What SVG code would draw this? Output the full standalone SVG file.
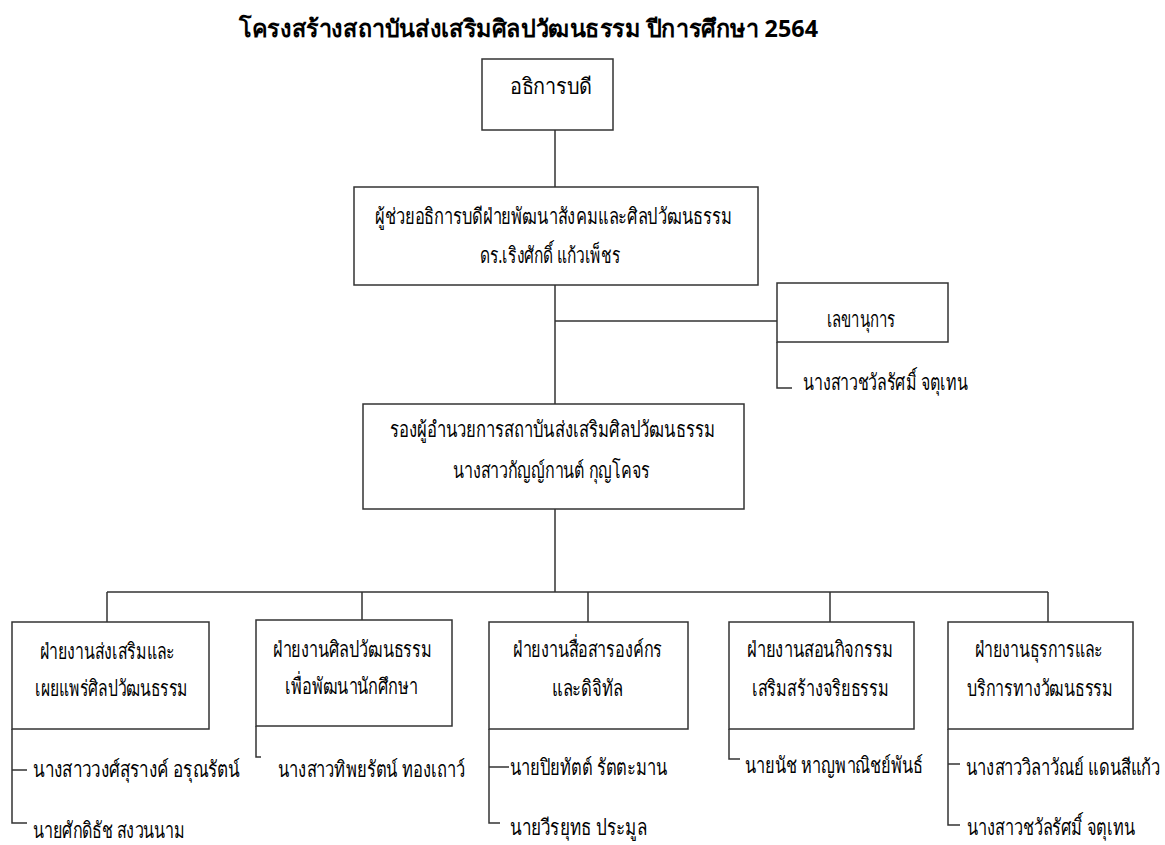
<svg xmlns="http://www.w3.org/2000/svg" width="1165" height="845" viewBox="0 0 1165 845">
<style>
.box{fill:#fff;stroke:#333;stroke-width:1.5}
.ln{fill:none;stroke:#333;stroke-width:1.5}
text{font-family:"Noto Sans","DejaVu Sans",sans-serif;font-size:22px;fill:#000}
.t{font-weight:bold;font-size:24px}
.e{text-anchor:end}
</style>
<rect width="1165" height="845" fill="#fff"/>
<text class="t" x="239" y="37" textLength="579" lengthAdjust="spacingAndGlyphs">โครงสร้างสถาบันส่งเสริมศิลปวัฒนธรรม ปีการศึกษา 2564</text>
<g id="connectors">
<path class="ln" d="M555,130V187M555,285V404M555,321H777M777,342V388H792"/>
<path class="ln" d="M555,509V592M107,592H1048M107,592V622M362,592V620M588,592V622M830,592V622M1048,592V622"/>
<path class="ln" d="M12,729V823H27M12,770H27M256,726V757H261M489,729V823H500M489,767H509M729,729V759H740M948,729V825H960M948,764H960"/>
</g>
<g id="n-rector"><rect class="box" x="482" y="59" width="131" height="71"/><text x="510" y="94" textLength="82" lengthAdjust="spacingAndGlyphs">อธิการบดี</text></g>
<g id="n-assistant"><rect class="box" x="354" y="187" width="404" height="98"/><text x="375" y="224" textLength="357" lengthAdjust="spacingAndGlyphs">ผู้ช่วยอธิการบดีฝ่ายพัฒนาสังคมและศิลปวัฒนธรรม</text><text x="480" y="263" textLength="140" lengthAdjust="spacingAndGlyphs">ดร.เริงศักดิ์ แก้วเพ็ชร</text></g>
<g id="n-secretary"><rect class="box" x="777" y="283" width="171" height="59"/><text x="827" y="327" textLength="68" lengthAdjust="spacingAndGlyphs">เลขานุการ</text><text x="803" y="390" textLength="165" lengthAdjust="spacingAndGlyphs">นางสาวชวัลรัศมิ์ จตุเทน</text></g>
<g id="n-deputy"><rect class="box" x="363" y="404" width="381" height="105"/><text x="390" y="437" textLength="325" lengthAdjust="spacingAndGlyphs">รองผู้อำนวยการสถาบันส่งเสริมศิลปวัฒนธรรม</text><text x="453" y="478" textLength="197" lengthAdjust="spacingAndGlyphs">นางสาวกัญญ์กานต์ กุญโคจร</text></g>
<g id="n-d1"><rect class="box" x="12" y="622" width="197" height="107"/><text x="40" y="659" textLength="135" lengthAdjust="spacingAndGlyphs">ฝ่ายงานส่งเสริมและ</text><text x="35" y="696" textLength="153" lengthAdjust="spacingAndGlyphs">เผยแพร่ศิลปวัฒนธรรม</text><text x="33" y="777" textLength="207" lengthAdjust="spacingAndGlyphs">นางสาววงศ์สุรางค์ อรุณรัตน์</text><text x="33" y="838" textLength="152" lengthAdjust="spacingAndGlyphs">นายศักดิธัช สงวนนาม</text></g>
<g id="n-d2"><rect class="box" x="256" y="620" width="196" height="106"/><text x="273" y="657" textLength="159" lengthAdjust="spacingAndGlyphs">ฝ่ายงานศิลปวัฒนธรรม</text><text x="285" y="694" textLength="133" lengthAdjust="spacingAndGlyphs">เพื่อพัฒนานักศึกษา</text><text x="278" y="777" textLength="187" lengthAdjust="spacingAndGlyphs">นางสาวทิพยรัตน์ ทองเถาว์</text></g>
<g id="n-d3"><rect class="box" x="489" y="622" width="199" height="107"/><text x="513" y="657" textLength="149" lengthAdjust="spacingAndGlyphs">ฝ่ายงานสื่อสารองค์กร</text><text x="552" y="696" textLength="71" lengthAdjust="spacingAndGlyphs">และดิจิทัล</text><text x="510" y="775" textLength="157" lengthAdjust="spacingAndGlyphs">นายปิยทัตต์ รัตตะมาน</text><text x="510" y="835" textLength="137" lengthAdjust="spacingAndGlyphs">นายวีรยุทธ ประมูล</text></g>
<g id="n-d4"><rect class="box" x="729" y="622" width="185" height="107"/><text x="747" y="657" textLength="146" lengthAdjust="spacingAndGlyphs">ฝ่ายงานสอนกิจกรรม</text><text x="752" y="696" textLength="137" lengthAdjust="spacingAndGlyphs">เสริมสร้างจริยธรรม</text><text x="745" y="773" textLength="178" lengthAdjust="spacingAndGlyphs">นายนัช หาญพาณิชย์พันธ์</text></g>
<g id="n-d5"><rect class="box" x="948" y="622" width="185" height="107"/><text x="975" y="657" textLength="128" lengthAdjust="spacingAndGlyphs">ฝ่ายงานธุรการและ</text><text x="967" y="696" textLength="146" lengthAdjust="spacingAndGlyphs">บริการทางวัฒนธรรม</text><text class="e" x="1160" y="775" textLength="194" lengthAdjust="spacingAndGlyphs">นางสาววิลาวัณย์ แดนสีแก้ว</text><text class="e" x="1135" y="835" textLength="168" lengthAdjust="spacingAndGlyphs">นางสาวชวัลรัศมิ์ จตุเทน</text></g>
</svg>
